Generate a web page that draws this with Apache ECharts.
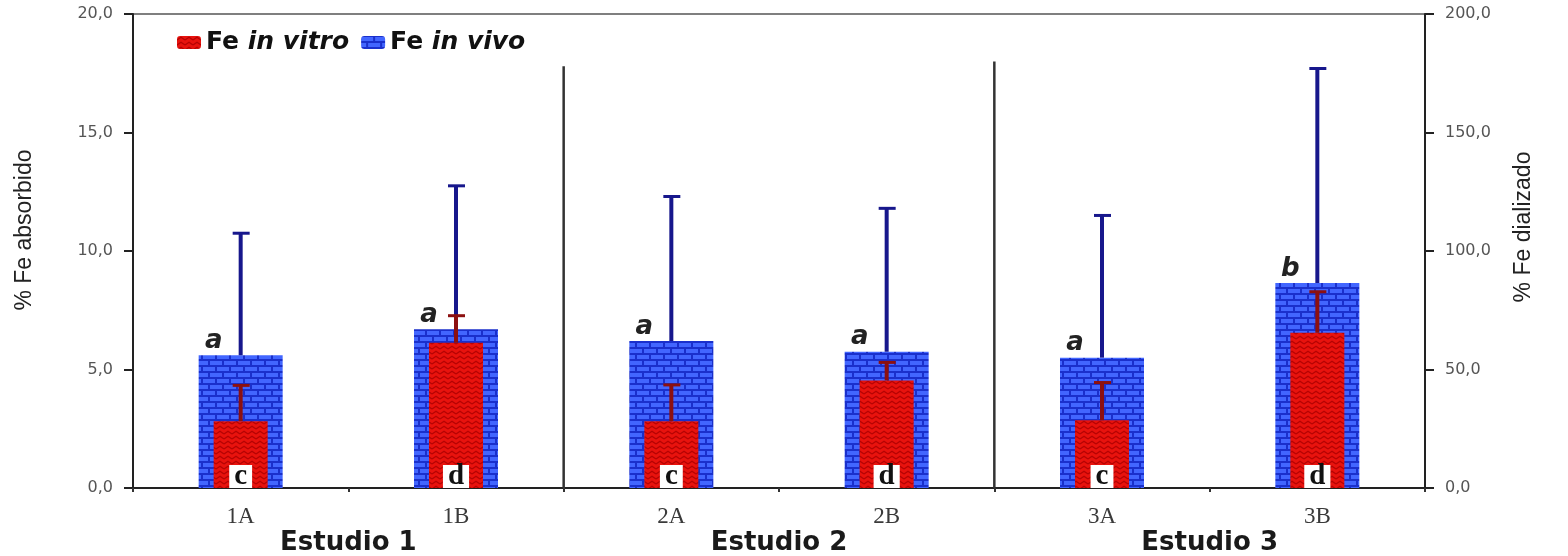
<!DOCTYPE html>
<html>
<head>
<meta charset="utf-8">
<script src="https://cdn.jsdelivr.net/npm/echarts@6/dist/echarts.min.js"></script>
<style>
html,body{margin:0;padding:0;background:#fff;}
#chart{width:1568px;height:556px;}
</style>
</head>
<body>
<div id="chart"></div>
<script>
// ---- data ----
const categories = ['1A', '1B', '2A', '2B', '3A', '3B'];
const studies = ['Estudio 1', 'Estudio 2', 'Estudio 3'];
const inVivo = [5.6, 6.7, 6.2, 5.75, 5.5, 8.65];          // % Fe absorbido (left axis)
const inVivoTop = [10.75, 12.75, 12.3, 11.8, 11.5, 17.7];   // error bar tops
const inVitro = [28.2, 61.3, 28.2, 45.4, 28.6, 65.5];      // % Fe dializado (right axis)
const inVitroTop = [43.3, 72.7, 43.5, 53.0, 44.5, 82.8];    // error bar tops
const inVivoLetters = ['a', 'a', 'a', 'a', 'a', 'b'];
const inVitroLetters = ['c', 'd', 'c', 'd', 'c', 'd'];
const separators = [[1, 17.8], [3, 18.0]];                 // after category index, top value (left axis)
const leftMax = 20, leftStep = 5;
const rightMax = 200, rightStep = 50;

// ---- patterns ----
function brickPattern() {
  const c = document.createElement('canvas');
  c.width = 14; c.height = 12;
  const g = c.getContext('2d');
  g.fillStyle = '#1a30cc'; g.fillRect(0, 0, 14, 12);
  g.fillStyle = '#4266ff';
  g.fillRect(0, 1, 12, 4);
  g.fillRect(-7, 7, 12, 4);
  g.fillRect(7, 7, 12, 4);
  return c;
}
function chevronPattern() {
  const c = document.createElement('canvas');
  c.width = 8; c.height = 5;
  const g = c.getContext('2d');
  g.fillStyle = '#e8130e'; g.fillRect(0, 0, 8, 5);
  g.strokeStyle = '#b50404'; g.lineWidth = 1.3;
  g.beginPath(); g.moveTo(0, 4); g.lineTo(4, 1.2); g.lineTo(8, 4); g.stroke();
  return c;
}
const blueFill = { image: brickPattern(), repeat: 'repeat' };
const redFill = { image: chevronPattern(), repeat: 'repeat' };

const fmt = v => v.toFixed(1).replace('.', ',');

function errRender(color) {
  return function (params, api) {
    const x = api.value(0);
    const p1 = api.coord([x, api.value(1)]);
    const p2 = api.coord([x, api.value(2)]);
    return {
      type: 'group',
      children: [
        { type: 'line', shape: { x1: p1[0], y1: p1[1], x2: p2[0], y2: p2[1] }, style: { stroke: color, lineWidth: 4 } },
        { type: 'line', shape: { x1: p2[0] - 8, y1: p2[1], x2: p2[0] + 9, y2: p2[1] }, style: { stroke: color, lineWidth: 3 } }
      ]
    };
  };
}

const chart = echarts.init(document.getElementById('chart'));
chart.setOption({
  animation: false,
  backgroundColor: '#fff',
  grid: { left: 133, right: 143, top: 14, bottom: 66, show: true, borderColor: '#555', borderWidth: 1.5 },
  legend: {
    left: 172, top: 25, itemWidth: 24, itemHeight: 13, itemGap: 12, selectedMode: false,
    data: ['Fe in vitro', 'Fe in vivo'],
    formatter: n => '{b|Fe }{i|' + n.replace('Fe ', '') + '}',
    textStyle: {
      rich: {
        b: { fontFamily: 'DejaVu Sans', fontWeight: 'bold', fontSize: 25, color: '#111' },
        i: { fontFamily: 'DejaVu Sans', fontWeight: 'bold', fontStyle: 'italic', fontSize: 25, color: '#111' }
      }
    }
  },
  xAxis: [
    {
      type: 'category', data: categories, position: 'bottom',
      axisLine: { lineStyle: { color: '#222', width: 2 } },
      axisTick: { show: true, interval: 0, length: 4, lineStyle: { color: '#333', width: 2 } },
      axisLabel: { margin: 17, fontFamily: 'Liberation Serif', fontSize: 23, color: '#3a3a3a' }
    },
    { type: 'category', data: categories, show: false },
    {
      type: 'category', data: studies, position: 'bottom',
      axisLine: { show: false }, axisTick: { show: false },
      axisLabel: { margin: 42, fontFamily: 'DejaVu Sans', fontWeight: 'bold', fontSize: 26, color: '#1a1a1a' }
    }
  ],
  yAxis: [
    {
      type: 'value', min: 0, max: leftMax, interval: leftStep, position: 'left',
      name: '% Fe absorbido', nameLocation: 'middle', nameGap: 97, nameRotate: 90,
      nameTextStyle: { fontFamily: 'Liberation Sans Narrow, Arial Narrow, Liberation Sans, sans-serif', fontSize: 23, color: '#222', padding: [0, 0, 0, 42] },
      splitLine: { show: false },
      axisLine: { show: true, lineStyle: { color: '#222', width: 2 } },
      axisTick: { show: true, length: 9, lineStyle: { color: '#222', width: 2 } },
      axisLabel: { margin: 20, formatter: fmt, fontFamily: 'DejaVu Sans', fontSize: 16, color: '#555' }
    },
    {
      type: 'value', min: 0, max: rightMax, interval: rightStep, position: 'right',
      name: '% Fe dializado', nameLocation: 'middle', nameGap: 87, nameRotate: 90,
      nameTextStyle: { fontFamily: 'Liberation Sans Narrow, Arial Narrow, Liberation Sans, sans-serif', fontSize: 23, color: '#222', padding: [0, 0, 0, 48] },
      splitLine: { show: false },
      axisLine: { show: true, lineStyle: { color: '#222', width: 2 } },
      axisTick: { show: true, length: 9, lineStyle: { color: '#222', width: 2 } },
      axisLabel: { margin: 20, formatter: fmt, fontFamily: 'DejaVu Sans', fontSize: 16, color: '#555' }
    }
  ],
  series: [
    {
      name: 'Fe in vivo', type: 'bar', xAxisIndex: 0, yAxisIndex: 0, z: 2,
      data: inVivo, barWidth: 84,
      itemStyle: { color: blueFill },
      label: {
        show: true, position: 'top', distance: 1, offset: [-27, 0],
        formatter: p => inVivoLetters[p.dataIndex],
        fontFamily: 'DejaVu Sans', fontWeight: 'bold', fontStyle: 'italic', fontSize: 26, color: '#222'
      }
    },
    {
      name: 'vivoErr', type: 'custom', xAxisIndex: 0, yAxisIndex: 0, z: 3,
      data: inVivo.map((v, i) => [i, v, inVivoTop[i]]),
      encode: { x: 0, y: [1, 2] },
      renderItem: errRender('#17178c')
    },
    {
      name: 'Fe in vitro', type: 'bar', xAxisIndex: 1, yAxisIndex: 1, z: 4,
      data: inVitro, barWidth: 54,
      itemStyle: { color: redFill },
      label: {
        show: true, position: 'insideBottom', distance: 0,
        formatter: p => inVitroLetters[p.dataIndex],
        fontFamily: 'Liberation Serif', fontWeight: 'bold', fontSize: 29, color: '#111',
        backgroundColor: '#fff', padding: [0, 5, 0, 5], lineHeight: 23
      }
    },
    {
      name: 'vitroErr', type: 'custom', xAxisIndex: 1, yAxisIndex: 1, z: 5,
      data: inVitro.map((v, i) => [i, v, inVitroTop[i]]),
      encode: { x: 0, y: [1, 2] },
      renderItem: errRender('#8c1010')
    },
    {
      name: 'sep', type: 'custom', xAxisIndex: 0, yAxisIndex: 0, z: 6,
      data: separators,
      encode: { x: 0, y: 1 },
      renderItem: function (params, api) {
        const i = api.value(0);
        const base = api.coord([i, 0]);
        const top = api.coord([i, api.value(1)]);
        const x = base[0] + api.size([1, 0])[0] / 2;
        return { type: 'line', shape: { x1: x, y1: base[1], x2: x, y2: top[1] }, style: { stroke: '#333', lineWidth: 2.5 } };
      }
    }
  ]
});
</script>
</body>
</html>
